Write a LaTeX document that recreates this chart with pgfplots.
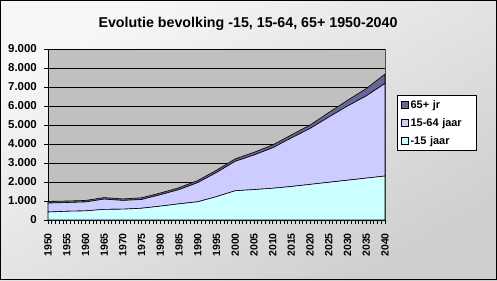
\documentclass[border=0pt]{standalone}
\usepackage{pgfplots}
\pgfplotsset{compat=1.18}
\usepackage{fontspec}
\setmainfont{Liberation Sans}
\definecolor{plotbg}{HTML}{C0C0C0}
\definecolor{young}{HTML}{CCFFFF}
\definecolor{mid}{HTML}{CCCCFF}
\definecolor{old}{HTML}{666699}
\begin{document}
\begin{tikzpicture}[x=1bp,y=1bp]
\useasboundingbox (0,0) rectangle (497,280);
\shade[shading=axis, top color=gray!6, bottom color=gray!38, shading angle=30] (0,0) rectangle (497,280);
\draw[black, line width=1bp] (0.5,0.5) rectangle (496.5,279.5);
\node[font=\fontsize{14.3}{16}\selectfont\bfseries] at (248,256) {Evolutie bevolking -15, 15-64, 65+ 1950-2040};
\begin{axis}[
  at={(48bp,60bp)}, anchor=south west,
  scale only axis, width=337bp, height=171bp,
  xmin=1950, xmax=2040, ymin=0, ymax=9000,
  stack plots=y,
  axis background/.style={fill=plotbg, draw=gray!60!black},
  axis line style={draw=black, line width=0.8bp},
  axis x line*=bottom, axis y line*=left,
  ytick={0,1000,...,9000},
  xtick={1950,1955,...,2040},
  minor x tick num=4,
  tick align=outside,
  major tick length=4bp, minor tick length=4bp,
  tick style={black, line width=0.6bp},
  ymajorgrids, grid style={black, line width=0.6bp},
  /pgf/number format/assume math mode=true,
  yticklabel style={font=\fontsize{11.5}{13}\selectfont\bfseries, /pgf/number format/1000 sep={.}, inner sep=0pt, xshift=-7bp},
  xticklabel style={font=\fontsize{10.5}{12}\selectfont\bfseries, rotate=90, anchor=east, /pgf/number format/1000 sep={}, inner sep=0pt},
  xticklabel shift=9bp,
  clip=false,
  reverse legend,
  legend style={at={(1.0356,0.73)}, anchor=north west, draw=black, fill=white,
    font=\fontsize{11}{13}\selectfont\bfseries, row sep=4.5bp, inner xsep=4bp, inner ysep=3bp,
    text width=60bp, cells={anchor=west}},
  legend image code/.code={\draw[#1, draw=black, line width=0.4bp] (0bp,-3.5bp) rectangle (7bp,3.5bp);},
]
\addplot[fill=young, draw=black, line width=0.6bp] coordinates {
(1950,420)(1955,460)(1960,480)(1965,560)(1970,570)(1975,620)(1980,730)(1985,850)(1990,960)(1995,1230)
(2000,1540)(2005,1600)(2010,1670)(2015,1765)(2020,1875)(2025,1985)(2030,2095)(2035,2205)(2040,2315)} \closedcycle;
\addlegendentry{-15 jaar}
\addplot[fill=mid, draw=black, line width=0.6bp] coordinates {
(1950,470)(1955,460)(1960,470)(1965,540)(1970,460)(1975,460)(1980,600)(1985,750)(1990,1010)(1995,1270)
(2000,1550)(2005,1820)(2010,2130)(2015,2555)(2020,2945)(2025,3435)(2030,3905)(2035,4325)(2040,4875)} \closedcycle;
\addlegendentry{15-64 jaar}
\addplot[fill=old, draw=black, line width=0.6bp] coordinates {
(1950,90)(1955,80)(1960,80)(1965,80)(1970,80)(1975,90)(1980,90)(1985,100)(1990,110)(1995,120)
(2000,130)(2005,140)(2010,150)(2015,160)(2020,180)(2025,240)(2030,300)(2035,390)(2040,490)} \closedcycle;
\addlegendentry{65+ jr}
\end{axis}
\end{tikzpicture}
\end{document}
